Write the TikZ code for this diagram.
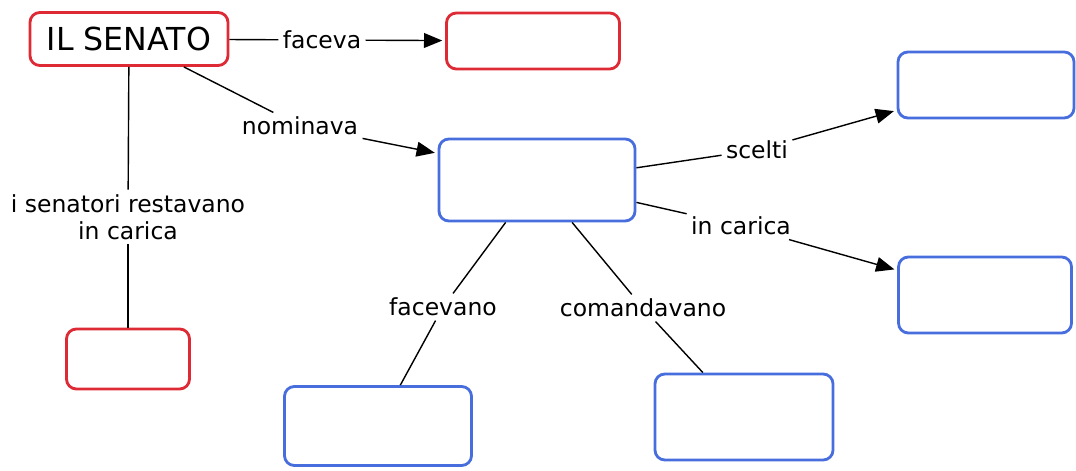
\documentclass[tikz,border=0pt]{standalone}
\usepackage{fontspec}
\setmainfont{DejaVu Sans}
\usetikzlibrary{arrows.meta}
\definecolor{conceptred}{RGB}{222,42,52}
\definecolor{conceptblue}{RGB}{72,110,222}
\tikzset{
  concept/.style={line width=2pt, rounded corners=7pt, fill=white},
  redbox/.style={concept, draw=conceptred},
  bluebox/.style={concept, draw=conceptblue},
  boxsize/.style 2 args={minimum width=#1*0.025cm, minimum height=#2*0.025cm},
  linklabel/.style={font=\fontsize{16.7}{19.5}\selectfont, inner sep=3pt, align=center},
  link/.style={line width=1pt},
  arrowlink/.style={link, -{Triangle[length=13pt,width=10.5pt]}, shorten >=2pt},
}
\begin{document}
\begin{tikzpicture}[x=0.025cm, y=-0.025cm]
  \useasboundingbox (0,0) rectangle (1076,471);
  % concepts
  \node[redbox, boxsize={198}{53}, font=\fontsize{22.5}{26}\selectfont] (senato) at (129,39) {IL SENATO};
  \node[redbox, boxsize={173}{56}] (faceva box) at (533,41) {};
  \node[redbox, boxsize={123}{60}] (carica box) at (128,359) {};
  \node[bluebox, boxsize={196}{82}] (nomina) at (537,180) {};
  \node[bluebox, boxsize={176}{66}] (scelti box) at (986,85) {};
  \node[bluebox, boxsize={173}{76}] (durata) at (985,295) {};
  \node[bluebox, boxsize={187}{79}] (facevano box) at (378,426) {};
  \node[bluebox, boxsize={178}{86}] (comando) at (744,417) {};
  % link labels
  \node[linklabel] (faceva) at (322,40) {faceva};
  \node[linklabel] (nominava) at (300,126) {nominava};
  \node[linklabel] (restavano) at (128,217) {i senatori restavano\\in carica};
  \node[linklabel] (scelti) at (757,150) {scelti};
  \node[linklabel] (incarica) at (741,226) {in carica};
  \node[linklabel] (facevano) at (443,307) {facevano};
  \node[linklabel] (comandavano) at (643,308) {comandavano};
  % links
  \draw[link] (senato) -- (faceva);
  \draw[arrowlink] (faceva) -- (faceva box);
  \draw[link] (senato) -- (nominava);
  \draw[arrowlink] (nominava) -- (nomina.165);
  \draw[link] (senato) -- (restavano);
  \draw[link] (restavano) -- (carica box);
  \draw[link] (nomina.7) -- (scelti);
  \draw[arrowlink] (scelti) -- (scelti box);
  \draw[link] (nomina) -- (incarica);
  \draw[arrowlink] (incarica) -- (durata);
  \draw[link] (nomina) -- (facevano);
  \draw[link] (facevano) -- (facevano box);
  \draw[link] (nomina) -- (comandavano);
  \draw[link] (comandavano) -- (comando);
\end{tikzpicture}
\end{document}
